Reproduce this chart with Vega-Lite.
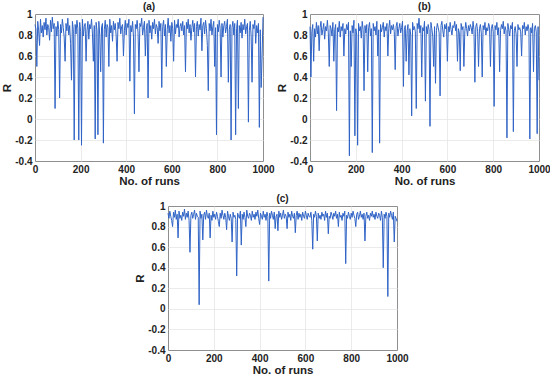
{
"$schema":"https://vega.github.io/schema/vega-lite/v6.json",
"padding":{"left":1,"top":1,"right":1,"bottom":1},
"background":"white",
"config":{
 "font":"Liberation Sans",
 "view":{"stroke":"#8f8f8f","strokeWidth":1},
 "axis":{"labelFont":"Liberation Sans","labelFontWeight":"bold","labelFontSize":10,"labelColor":"#222","labelFlush":false,"titleFont":"Liberation Sans","titleFontWeight":"bold","titleFontSize":11.5,"titleColor":"#222","gridColor":"#e6e6e6","gridWidth":0.8,"domain":false,"ticks":false,"labelPadding":3},
 "axisX":{"gridOpacity":{"condition":{"test":"datum.value == 0 || datum.value == 1000","value":0},"value":1}},
 "axisY":{"gridOpacity":{"condition":{"test":"datum.value < -0.39 || datum.value > 0.99","value":0},"value":1}},
 "title":{"font":"Liberation Sans","fontWeight":"bold","fontSize":10,"offset":-3,"color":"#222"},
 "line":{"color":"#2f63c6","strokeWidth":1}
},
"datasets":{
"a":[{"x":0,"y":0.9},{"x":4,"y":0.86},{"x":8,"y":0.5},{"x":12,"y":0.93},{"x":16,"y":0.84},{"x":20,"y":0.7},{"x":24,"y":0.95},{"x":28,"y":0.82},{"x":32,"y":0.89},{"x":36,"y":0.78},
{"x":40,"y":0.92},{"x":44,"y":0.85},{"x":48,"y":0.96},{"x":52,"y":0.8},{"x":56,"y":0.9},{"x":60,"y":0.87},{"x":64,"y":0.75},{"x":68,"y":0.94},{"x":72,"y":0.83},{"x":76,"y":0.97},
{"x":80,"y":0.86},{"x":84,"y":0.91},{"x":88,"y":0.1},{"x":92,"y":0.88},{"x":96,"y":0.79},{"x":100,"y":0.93},{"x":104,"y":0.85},{"x":108,"y":0.2},{"x":112,"y":0.9},{"x":116,"y":0.82},
{"x":120,"y":0.95},{"x":124,"y":0.87},{"x":128,"y":0.78},{"x":132,"y":0.55},{"x":136,"y":0.91},{"x":140,"y":0.84},{"x":144,"y":0.96},{"x":148,"y":0.8},{"x":152,"y":0.89},{"x":156,"y":0.72},
{"x":160,"y":0.37},{"x":164,"y":0.93},{"x":168,"y":0.85},{"x":172,"y":-0.2},{"x":176,"y":0.9},{"x":180,"y":0.81},{"x":184,"y":0.94},{"x":188,"y":0.86},{"x":192,"y":-0.2},{"x":196,"y":0.92},
{"x":200,"y":0.83},{"x":204,"y":-0.25},{"x":208,"y":0.95},{"x":212,"y":0.79},{"x":216,"y":0.88},{"x":220,"y":0.91},{"x":224,"y":0.55},{"x":228,"y":0.84},{"x":232,"y":0.93},{"x":236,"y":0.76},
{"x":240,"y":0.9},{"x":244,"y":0.86},{"x":248,"y":0.95},{"x":252,"y":0.81},{"x":256,"y":0.55},{"x":260,"y":0.89},{"x":264,"y":-0.19},{"x":268,"y":0.92},{"x":272,"y":0.84},{"x":276,"y":-0.15},
{"x":280,"y":0.93},{"x":284,"y":0.8},{"x":288,"y":0.45},{"x":292,"y":0.88},{"x":296,"y":0.91},{"x":300,"y":-0.23},{"x":304,"y":0.85},{"x":308,"y":0.94},{"x":312,"y":0.78},{"x":316,"y":0.9},
{"x":320,"y":0.87},{"x":324,"y":0.5},{"x":328,"y":0.95},{"x":332,"y":0.82},{"x":336,"y":0.89},{"x":340,"y":0.74},{"x":344,"y":0.93},{"x":348,"y":0.85},{"x":352,"y":0.91},{"x":356,"y":0.79},
{"x":360,"y":0.55},{"x":364,"y":0.92},{"x":368,"y":0.86},{"x":372,"y":0.96},{"x":376,"y":0.81},{"x":380,"y":0.88},{"x":384,"y":0.9},{"x":388,"y":0.6},{"x":392,"y":0.84},{"x":396,"y":0.94},
{"x":400,"y":0.8},{"x":404,"y":0.91},{"x":408,"y":0.87},{"x":412,"y":0.95},{"x":416,"y":0.36},{"x":420,"y":0.89},{"x":424,"y":0.83},{"x":428,"y":0.93},{"x":432,"y":0.78},{"x":436,"y":0.05},
{"x":440,"y":0.9},{"x":444,"y":0.86},{"x":448,"y":0.94},{"x":452,"y":0.82},{"x":456,"y":0.45},{"x":460,"y":0.91},{"x":464,"y":0.88},{"x":468,"y":0.96},{"x":472,"y":0.8},{"x":476,"y":0.87},
{"x":480,"y":0.93},{"x":484,"y":0.6},{"x":488,"y":0.85},{"x":492,"y":0.91},{"x":496,"y":0.2},{"x":500,"y":0.94},{"x":504,"y":0.82},{"x":508,"y":0.89},{"x":512,"y":0.76},{"x":516,"y":0.92},
{"x":520,"y":0.86},{"x":524,"y":0.95},{"x":528,"y":0.81},{"x":532,"y":0.9},{"x":536,"y":0.87},{"x":540,"y":0.72},{"x":544,"y":0.93},{"x":548,"y":0.84},{"x":552,"y":0.91},{"x":556,"y":0.3},
{"x":560,"y":0.88},{"x":564,"y":0.94},{"x":568,"y":0.79},{"x":572,"y":0.9},{"x":576,"y":0.5},{"x":580,"y":0.85},{"x":584,"y":0.96},{"x":588,"y":0.82},{"x":592,"y":0.89},{"x":596,"y":0.74},
{"x":600,"y":0.92},{"x":604,"y":0.86},{"x":608,"y":0.55},{"x":612,"y":0.94},{"x":616,"y":0.81},{"x":620,"y":0.9},{"x":624,"y":0.87},{"x":628,"y":0.95},{"x":632,"y":0.78},{"x":636,"y":0.88},
{"x":640,"y":0.91},{"x":644,"y":0.84},{"x":648,"y":0.93},{"x":652,"y":0.8},{"x":656,"y":0.89},{"x":660,"y":0.45},{"x":664,"y":0.92},{"x":668,"y":0.86},{"x":672,"y":0.95},{"x":676,"y":0.82},
{"x":680,"y":0.9},{"x":684,"y":0.75},{"x":688,"y":0.87},{"x":692,"y":0.94},{"x":696,"y":0.83},{"x":700,"y":0.91},{"x":704,"y":0.4},{"x":708,"y":0.88},{"x":712,"y":0.93},{"x":716,"y":0.79},
{"x":720,"y":0.9},{"x":724,"y":0.85},{"x":728,"y":0.96},{"x":732,"y":0.65},{"x":736,"y":0.89},{"x":740,"y":0.92},{"x":744,"y":0.81},{"x":748,"y":0.94},{"x":752,"y":0.86},{"x":756,"y":0.7},
{"x":760,"y":0.27},{"x":764,"y":0.91},{"x":768,"y":0.84},{"x":772,"y":0.95},{"x":776,"y":0.8},{"x":780,"y":0.88},{"x":784,"y":0.93},{"x":788,"y":0.5},{"x":792,"y":0.87},{"x":796,"y":-0.15},
{"x":800,"y":0.9},{"x":804,"y":0.83},{"x":808,"y":0.94},{"x":812,"y":0.86},{"x":816,"y":0.4},{"x":820,"y":0.91},{"x":824,"y":0.78},{"x":828,"y":0.89},{"x":832,"y":0.93},{"x":836,"y":0.82},
{"x":840,"y":0.88},{"x":844,"y":0.95},{"x":848,"y":0.35},{"x":852,"y":0.85},{"x":856,"y":0.9},{"x":860,"y":-0.2},{"x":864,"y":0.87},{"x":868,"y":0.93},{"x":872,"y":0.8},{"x":876,"y":0.91},
{"x":880,"y":-0.15},{"x":884,"y":0.86},{"x":888,"y":0.94},{"x":892,"y":0.1},{"x":896,"y":0.89},{"x":900,"y":0.82},{"x":904,"y":0.92},{"x":908,"y":0.77},{"x":912,"y":0.9},{"x":916,"y":0.85},
{"x":920,"y":0.95},{"x":924,"y":0.81},{"x":928,"y":0.88},{"x":932,"y":0.91},{"x":936,"y":-0.03},{"x":940,"y":0.84},{"x":944,"y":0.93},{"x":948,"y":0.79},{"x":952,"y":0.35},{"x":956,"y":0.9},
{"x":960,"y":0.86},{"x":964,"y":0.94},{"x":968,"y":0.72},{"x":972,"y":0.89},{"x":976,"y":0.82},{"x":980,"y":0.91},{"x":984,"y":-0.08},{"x":988,"y":0.85},{"x":992,"y":0.3},{"x":996,"y":0.6},
{"x":1000,"y":0.97}],
"b":[{"x":0,"y":0.88},{"x":4,"y":0.4},{"x":8,"y":0.83},{"x":12,"y":0.9},{"x":16,"y":0.55},{"x":20,"y":0.86},{"x":24,"y":0.78},{"x":28,"y":0.92},{"x":32,"y":0.81},{"x":36,"y":0.89},
{"x":40,"y":0.65},{"x":44,"y":0.87},{"x":48,"y":0.93},{"x":52,"y":0.8},{"x":56,"y":0.85},{"x":60,"y":0.91},{"x":64,"y":0.76},{"x":68,"y":0.88},{"x":72,"y":0.84},{"x":76,"y":0.94},
{"x":80,"y":0.82},{"x":84,"y":0.5},{"x":88,"y":0.89},{"x":92,"y":0.86},{"x":96,"y":0.79},{"x":100,"y":0.92},{"x":104,"y":0.55},{"x":108,"y":0.85},{"x":112,"y":0.9},{"x":116,"y":0.08},
{"x":120,"y":0.87},{"x":124,"y":0.83},{"x":128,"y":0.93},{"x":132,"y":0.78},{"x":136,"y":0.88},{"x":140,"y":0.84},{"x":144,"y":0.91},{"x":148,"y":0.6},{"x":152,"y":0.86},{"x":156,"y":0.81},
{"x":160,"y":0.9},{"x":164,"y":0.85},{"x":168,"y":0.92},{"x":172,"y":-0.35},{"x":176,"y":0.84},{"x":180,"y":0.5},{"x":184,"y":0.89},{"x":188,"y":0.82},{"x":192,"y":0.94},{"x":196,"y":-0.16},
{"x":200,"y":0.86},{"x":204,"y":0.8},{"x":208,"y":-0.25},{"x":212,"y":0.91},{"x":216,"y":0.84},{"x":220,"y":0.88},{"x":224,"y":0.77},{"x":228,"y":0.93},{"x":232,"y":0.85},{"x":236,"y":0.27},
{"x":240,"y":0.89},{"x":244,"y":0.82},{"x":248,"y":0.9},{"x":252,"y":0.45},{"x":256,"y":0.87},{"x":260,"y":0.92},{"x":264,"y":0.79},{"x":268,"y":0.86},{"x":272,"y":-0.32},{"x":276,"y":0.91},
{"x":280,"y":0.84},{"x":284,"y":0.88},{"x":288,"y":0.8},{"x":292,"y":0.93},{"x":296,"y":0.6},{"x":300,"y":0.85},{"x":304,"y":-0.23},{"x":308,"y":0.9},{"x":312,"y":0.83},{"x":316,"y":0.87},
{"x":320,"y":0.92},{"x":324,"y":0.78},{"x":328,"y":0.88},{"x":332,"y":0.84},{"x":336,"y":0.91},{"x":340,"y":0.6},{"x":344,"y":0.86},{"x":348,"y":0.94},{"x":352,"y":0.81},{"x":356,"y":0.89},
{"x":360,"y":0.85},{"x":364,"y":0.9},{"x":368,"y":0.83},{"x":372,"y":0.47},{"x":376,"y":0.88},{"x":380,"y":0.92},{"x":384,"y":0.79},{"x":388,"y":0.86},{"x":392,"y":0.91},{"x":396,"y":0.82},
{"x":400,"y":0.87},{"x":404,"y":0.93},{"x":408,"y":0.31},{"x":412,"y":0.85},{"x":416,"y":0.89},{"x":420,"y":0.55},{"x":424,"y":0.84},{"x":428,"y":0.9},{"x":432,"y":0.42},{"x":436,"y":0.86},
{"x":440,"y":0.8},{"x":444,"y":0.03},{"x":448,"y":0.92},{"x":452,"y":0.85},{"x":456,"y":0.88},{"x":460,"y":0.83},{"x":464,"y":0.1},{"x":468,"y":0.91},{"x":472,"y":0.86},{"x":476,"y":0.96},
{"x":480,"y":0.82},{"x":484,"y":0.89},{"x":488,"y":0.4},{"x":492,"y":0.87},{"x":496,"y":0.84},{"x":500,"y":0.93},{"x":504,"y":0.17},{"x":508,"y":0.88},{"x":512,"y":0.81},{"x":516,"y":0.9},
{"x":520,"y":0.85},{"x":524,"y":-0.07},{"x":528,"y":0.92},{"x":532,"y":0.86},{"x":536,"y":0.79},{"x":540,"y":0.5},{"x":544,"y":0.88},{"x":548,"y":0.34},{"x":552,"y":0.84},{"x":556,"y":0.91},
{"x":560,"y":0.87},{"x":564,"y":0.82},{"x":568,"y":0.22},{"x":572,"y":0.89},{"x":576,"y":0.93},{"x":580,"y":0.84},{"x":584,"y":0.78},{"x":588,"y":0.9},{"x":592,"y":0.86},{"x":596,"y":0.91},
{"x":600,"y":0.55},{"x":604,"y":0.88},{"x":608,"y":0.83},{"x":612,"y":0.92},{"x":616,"y":0.85},{"x":620,"y":0.8},{"x":624,"y":0.89},{"x":628,"y":0.87},{"x":632,"y":0.93},{"x":636,"y":0.84},
{"x":640,"y":0.9},{"x":644,"y":0.55},{"x":648,"y":0.86},{"x":652,"y":0.82},{"x":656,"y":0.46},{"x":660,"y":0.91},{"x":664,"y":0.85},{"x":668,"y":0.88},{"x":672,"y":0.5},{"x":676,"y":0.83},
{"x":680,"y":0.92},{"x":684,"y":0.86},{"x":688,"y":0.79},{"x":692,"y":0.89},{"x":696,"y":0.84},{"x":700,"y":0.9},{"x":704,"y":0.87},{"x":708,"y":0.81},{"x":712,"y":0.93},{"x":716,"y":0.85},
{"x":720,"y":0.35},{"x":724,"y":0.88},{"x":728,"y":0.91},{"x":732,"y":0.83},{"x":736,"y":0.5},{"x":740,"y":0.86},{"x":744,"y":0.9},{"x":748,"y":0.82},{"x":752,"y":0.4},{"x":756,"y":0.89},
{"x":760,"y":0.85},{"x":764,"y":0.92},{"x":768,"y":0.8},{"x":772,"y":0.87},{"x":776,"y":0.84},{"x":780,"y":0.91},{"x":784,"y":0.88},{"x":788,"y":0.5},{"x":792,"y":0.86},{"x":796,"y":0.9},
{"x":800,"y":0.83},{"x":804,"y":0.12},{"x":808,"y":0.89},{"x":812,"y":0.85},{"x":816,"y":0.92},{"x":820,"y":0.8},{"x":824,"y":0.87},{"x":828,"y":0.45},{"x":832,"y":0.84},{"x":836,"y":0.9},
{"x":840,"y":0.86},{"x":844,"y":0.93},{"x":848,"y":0.81},{"x":852,"y":0.88},{"x":856,"y":0.84},{"x":860,"y":-0.18},{"x":864,"y":0.91},{"x":868,"y":0.85},{"x":872,"y":0.79},{"x":876,"y":0.89},
{"x":880,"y":0.86},{"x":884,"y":0.92},{"x":888,"y":-0.12},{"x":892,"y":0.84},{"x":896,"y":0.88},{"x":900,"y":0.81},{"x":904,"y":0.5},{"x":908,"y":0.9},{"x":912,"y":0.85},{"x":916,"y":0.87},
{"x":920,"y":0.83},{"x":924,"y":0.6},{"x":928,"y":0.89},{"x":932,"y":0.86},{"x":936,"y":0.92},{"x":940,"y":0.8},{"x":944,"y":0.88},{"x":948,"y":0.84},{"x":952,"y":0.9},{"x":956,"y":0.85},
{"x":960,"y":-0.19},{"x":964,"y":0.87},{"x":968,"y":0.82},{"x":972,"y":0.91},{"x":976,"y":0.45},{"x":980,"y":0.86},{"x":984,"y":0.89},{"x":988,"y":0.83},{"x":992,"y":-0.14},{"x":996,"y":0.88},
{"x":1000,"y":0.37}],
"c":[{"x":0,"y":0.93},{"x":4,"y":0.88},{"x":8,"y":0.95},{"x":12,"y":0.9},{"x":16,"y":0.86},{"x":20,"y":0.8},{"x":24,"y":0.94},{"x":28,"y":0.89},{"x":32,"y":0.96},{"x":36,"y":0.87},
{"x":40,"y":0.92},{"x":44,"y":0.69},{"x":48,"y":0.95},{"x":52,"y":0.88},{"x":56,"y":0.91},{"x":60,"y":0.86},{"x":64,"y":0.94},{"x":68,"y":0.9},{"x":72,"y":0.97},{"x":76,"y":0.87},
{"x":80,"y":0.93},{"x":84,"y":0.89},{"x":88,"y":0.95},{"x":92,"y":0.86},{"x":96,"y":0.55},{"x":100,"y":0.91},{"x":104,"y":0.94},{"x":108,"y":0.88},{"x":112,"y":0.92},{"x":116,"y":0.96},
{"x":120,"y":0.87},{"x":124,"y":0.93},{"x":128,"y":0.9},{"x":132,"y":0.89},{"x":136,"y":0.04},{"x":140,"y":0.95},{"x":144,"y":0.88},{"x":148,"y":0.92},{"x":152,"y":0.67},{"x":156,"y":0.91},
{"x":160,"y":0.94},{"x":164,"y":0.87},{"x":168,"y":0.96},{"x":172,"y":0.9},{"x":176,"y":0.88},{"x":180,"y":0.93},{"x":184,"y":0.69},{"x":188,"y":0.91},{"x":192,"y":0.86},{"x":196,"y":0.95},
{"x":200,"y":0.89},{"x":204,"y":0.92},{"x":208,"y":0.87},{"x":212,"y":0.94},{"x":216,"y":0.9},{"x":220,"y":0.85},{"x":224,"y":0.8},{"x":228,"y":0.93},{"x":232,"y":0.88},{"x":236,"y":0.96},
{"x":240,"y":0.91},{"x":244,"y":0.87},{"x":248,"y":0.93},{"x":252,"y":0.89},{"x":256,"y":0.77},{"x":260,"y":0.95},{"x":264,"y":0.9},{"x":268,"y":0.86},{"x":272,"y":0.92},{"x":276,"y":0.88},
{"x":280,"y":0.65},{"x":284,"y":0.94},{"x":288,"y":0.89},{"x":292,"y":0.91},{"x":296,"y":0.87},{"x":300,"y":0.32},{"x":304,"y":0.93},{"x":308,"y":0.9},{"x":312,"y":0.88},{"x":316,"y":0.95},
{"x":320,"y":0.62},{"x":324,"y":0.92},{"x":328,"y":0.87},{"x":332,"y":0.94},{"x":336,"y":0.89},{"x":340,"y":0.8},{"x":344,"y":0.96},{"x":348,"y":0.9},{"x":352,"y":0.88},{"x":356,"y":0.93},
{"x":360,"y":0.91},{"x":364,"y":0.86},{"x":368,"y":0.95},{"x":372,"y":0.89},{"x":376,"y":0.92},{"x":380,"y":0.87},{"x":384,"y":0.94},{"x":388,"y":0.9},{"x":392,"y":0.96},{"x":396,"y":0.88},
{"x":400,"y":0.82},{"x":404,"y":0.93},{"x":408,"y":0.9},{"x":412,"y":0.87},{"x":416,"y":0.95},{"x":420,"y":0.89},{"x":424,"y":0.92},{"x":428,"y":0.86},{"x":432,"y":0.94},{"x":436,"y":0.9},
{"x":440,"y":0.27},{"x":444,"y":0.93},{"x":448,"y":0.88},{"x":452,"y":0.95},{"x":456,"y":0.91},{"x":460,"y":0.87},{"x":464,"y":0.94},{"x":468,"y":0.78},{"x":472,"y":0.9},{"x":476,"y":0.92},
{"x":480,"y":0.76},{"x":484,"y":0.95},{"x":488,"y":0.89},{"x":492,"y":0.93},{"x":496,"y":0.87},{"x":500,"y":0.91},{"x":504,"y":0.96},{"x":508,"y":0.88},{"x":512,"y":0.92},{"x":516,"y":0.9},
{"x":520,"y":0.78},{"x":524,"y":0.94},{"x":528,"y":0.89},{"x":532,"y":0.92},{"x":536,"y":0.86},{"x":540,"y":0.95},{"x":544,"y":0.9},{"x":548,"y":0.88},{"x":552,"y":0.93},{"x":556,"y":0.74},
{"x":560,"y":0.91},{"x":564,"y":0.95},{"x":568,"y":0.87},{"x":572,"y":0.93},{"x":576,"y":0.89},{"x":580,"y":0.92},{"x":584,"y":0.86},{"x":588,"y":0.94},{"x":592,"y":0.9},{"x":596,"y":0.88},
{"x":600,"y":0.95},{"x":604,"y":0.91},{"x":608,"y":0.87},{"x":612,"y":0.93},{"x":616,"y":0.9},{"x":620,"y":0.89},{"x":624,"y":0.94},{"x":628,"y":0.86},{"x":632,"y":0.58},{"x":636,"y":0.92},
{"x":640,"y":0.89},{"x":644,"y":0.95},{"x":648,"y":0.9},{"x":652,"y":0.66},{"x":656,"y":0.93},{"x":660,"y":0.88},{"x":664,"y":0.91},{"x":668,"y":0.87},{"x":672,"y":0.94},{"x":676,"y":0.9},
{"x":680,"y":0.92},{"x":684,"y":0.86},{"x":688,"y":0.95},{"x":692,"y":0.89},{"x":696,"y":0.93},{"x":700,"y":0.73},{"x":704,"y":0.9},{"x":708,"y":0.88},{"x":712,"y":0.94},{"x":716,"y":0.91},
{"x":720,"y":0.87},{"x":724,"y":0.93},{"x":728,"y":0.9},{"x":732,"y":0.95},{"x":736,"y":0.88},{"x":740,"y":0.92},{"x":744,"y":0.8},{"x":748,"y":0.94},{"x":752,"y":0.89},{"x":756,"y":0.91},
{"x":760,"y":0.86},{"x":764,"y":0.93},{"x":768,"y":0.9},{"x":772,"y":0.95},{"x":776,"y":0.44},{"x":780,"y":0.91},{"x":784,"y":0.88},{"x":788,"y":0.94},{"x":792,"y":0.9},{"x":796,"y":0.87},
{"x":800,"y":0.93},{"x":804,"y":0.89},{"x":808,"y":0.95},{"x":812,"y":0.91},{"x":816,"y":0.88},{"x":820,"y":0.8},{"x":824,"y":0.92},{"x":828,"y":0.94},{"x":832,"y":0.87},{"x":836,"y":0.9},
{"x":840,"y":0.95},{"x":844,"y":0.89},{"x":848,"y":0.92},{"x":852,"y":0.87},{"x":856,"y":0.93},{"x":860,"y":0.66},{"x":864,"y":0.9},{"x":868,"y":0.94},{"x":872,"y":0.88},{"x":876,"y":0.91},
{"x":880,"y":0.86},{"x":884,"y":0.93},{"x":888,"y":0.9},{"x":892,"y":0.95},{"x":896,"y":0.89},{"x":900,"y":0.92},{"x":904,"y":0.87},{"x":908,"y":0.94},{"x":912,"y":0.9},{"x":916,"y":0.88},
{"x":920,"y":0.93},{"x":924,"y":0.91},{"x":928,"y":0.86},{"x":932,"y":0.95},{"x":936,"y":0.89},{"x":940,"y":0.4},{"x":944,"y":0.92},{"x":948,"y":0.88},{"x":952,"y":0.94},{"x":956,"y":0.9},
{"x":960,"y":0.12},{"x":964,"y":0.93},{"x":968,"y":0.89},{"x":972,"y":0.95},{"x":976,"y":0.91},{"x":980,"y":0.87},{"x":984,"y":0.94},{"x":988,"y":0.65},{"x":992,"y":0.9},{"x":996,"y":0.88},
{"x":1000,"y":0.85}]
},
"vconcat":[
 {"hconcat":[
  {"title":"(a)","data":{"name":"a"},"width":228,"height":147,"mark":{"type":"line"},
   "encoding":{
    "x":{"field":"x","type":"quantitative","scale":{"domain":[0,1000],"nice":false},"axis":{"title":"No. of runs","values":[0,200,400,600,800,1000],"format":"d","titlePadding":1}},
    "y":{"field":"y","type":"quantitative","scale":{"domain":[-0.4,1],"nice":false},"axis":{"title":"R","values":[-0.4,-0.2,0,0.2,0.4,0.6,0.8,1],"labelExpr":"datum.value < 0 ? '-' + format(-datum.value, '~g') : format(datum.value, '~g')","titlePadding":2}}}},
  {"title":"(b)","data":{"name":"b"},"width":229,"height":147,"mark":{"type":"line"},
   "encoding":{
    "x":{"field":"x","type":"quantitative","scale":{"domain":[0,1000],"nice":false},"axis":{"title":"No. of runs","values":[0,200,400,600,800,1000],"format":"d","titlePadding":1}},
    "y":{"field":"y","type":"quantitative","scale":{"domain":[-0.4,1],"nice":false},"axis":{"title":"R","values":[-0.4,-0.2,0,0.2,0.4,0.6,0.8,1],"labelExpr":"datum.value < 0 ? '-' + format(-datum.value, '~g') : format(datum.value, '~g')","titlePadding":2}}}}
 ],"spacing":1},
 {"hconcat":[
  {"data":{"values":[]},"width":98,"height":143,"view":{"stroke":null},"mark":{"type":"text"},"encoding":{}},
  {"title":"(c)","data":{"name":"c"},"width":229,"height":144,"mark":{"type":"line"},
   "encoding":{
    "x":{"field":"x","type":"quantitative","scale":{"domain":[0,1000],"nice":false},"axis":{"title":"No. of runs","values":[0,200,400,600,800,1000],"format":"d","titlePadding":1}},
    "y":{"field":"y","type":"quantitative","scale":{"domain":[-0.4,1],"nice":false},"axis":{"title":"R","values":[-0.4,-0.2,0,0.2,0.4,0.6,0.8,1],"labelExpr":"datum.value < 0 ? '-' + format(-datum.value, '~g') : format(datum.value, '~g')","titlePadding":2}}}}
 ],"spacing":1}
],
"spacing":6
}
